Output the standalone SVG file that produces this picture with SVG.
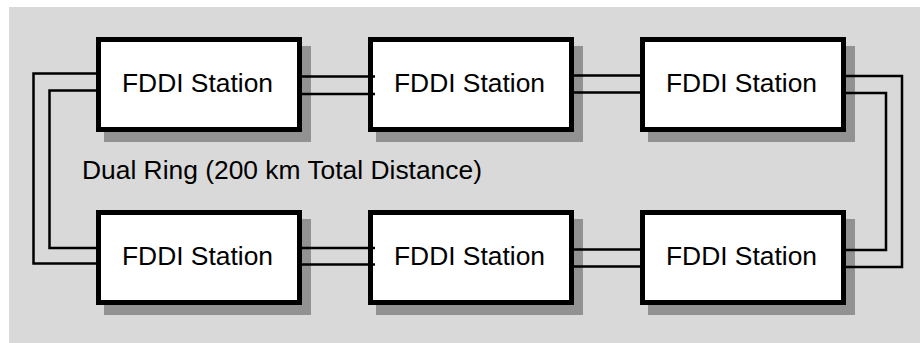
<svg xmlns="http://www.w3.org/2000/svg" width="920" height="343" viewBox="0 0 920 343">
<style>
.bg{fill:#d9d9d9}
.sh{fill:#929292}
.box{fill:#fff;stroke:#000;stroke-width:5}
.t{font-family:"Liberation Sans",Arial,sans-serif;font-size:26.4px;fill:#000}
.c{fill:none;stroke:#000;stroke-width:2.5}
</style>
<rect class="bg" x="9" y="7" width="911" height="336"/>
<g id="station1">
<rect class="sh" x="104" y="46" width="207" height="96"/>
<rect class="box" x="98.5" y="39.5" width="201" height="90"/>
<text class="t" x="197.5" y="92" text-anchor="middle">FDDI Station</text>
</g>
<g id="station2">
<rect class="sh" x="376" y="46" width="207" height="96"/>
<rect class="box" x="370.5" y="39.5" width="201" height="90"/>
<text class="t" x="469.5" y="92" text-anchor="middle">FDDI Station</text>
</g>
<g id="station3">
<rect class="sh" x="648" y="46" width="207" height="96"/>
<rect class="box" x="642.5" y="39.5" width="201" height="90"/>
<text class="t" x="741.5" y="92" text-anchor="middle">FDDI Station</text>
</g>
<g id="station4">
<rect class="sh" x="104" y="219" width="207" height="96"/>
<rect class="box" x="98.5" y="212.5" width="201" height="90"/>
<text class="t" x="197.5" y="264.5" text-anchor="middle">FDDI Station</text>
</g>
<g id="station5">
<rect class="sh" x="376" y="219" width="207" height="96"/>
<rect class="box" x="370.5" y="212.5" width="201" height="90"/>
<text class="t" x="469.5" y="264.5" text-anchor="middle">FDDI Station</text>
</g>
<g id="station6">
<rect class="sh" x="648" y="219" width="207" height="96"/>
<rect class="box" x="642.5" y="212.5" width="201" height="90"/>
<text class="t" x="741.5" y="264.5" text-anchor="middle">FDDI Station</text>
</g>
<g id="connectors">
<path class="c" d="M297 76.5H375M297 94H375"/>
<path class="c" d="M569 75.5H645M569 92.5H645"/>
<path class="c" d="M297 248H375M297 264.5H375"/>
<path class="c" d="M569 249.5H645M569 266.5H645"/>
<path class="c" d="M97 73.5H33.5V263.5H97"/>
<path class="c" d="M97 90.5H49.5V248H97"/>
<path class="c" d="M843 76H902V267H843"/>
<path class="c" d="M843 93H886V250H843"/>
</g>
<text class="t" x="82" y="179">Dual Ring (200 km Total Distance)</text>
</svg>
